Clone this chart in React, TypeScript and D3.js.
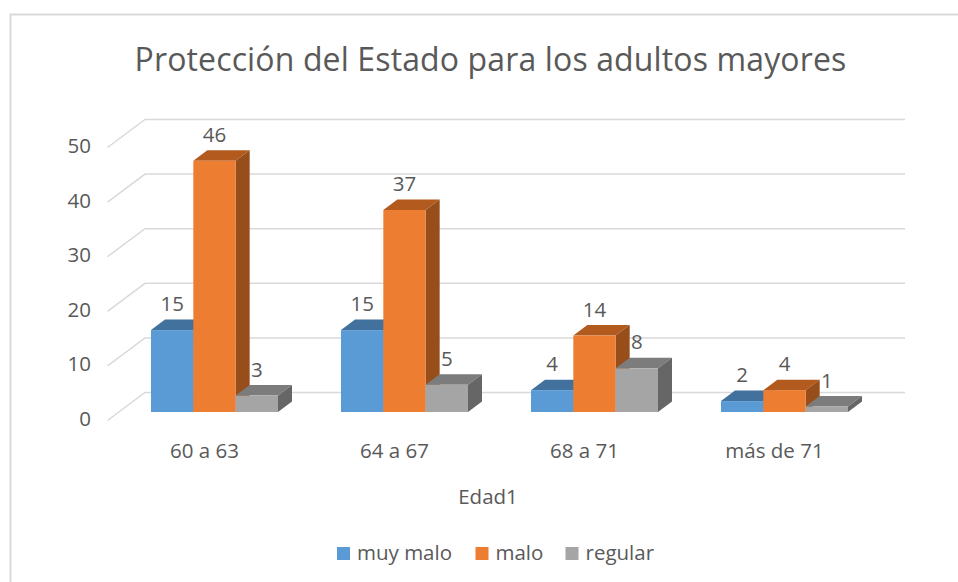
import React from 'react';
import * as d3 from 'd3';

const categories = ['60 a 63', '64 a 67', '68 a 71', 'más de 71'];
const seriesNames = ['muy malo', 'malo', 'regular'];
const muyMalo = [15, 15, 4, 2];
const malo = [46, 37, 14, 4];
const regular = [3, 5, 8, 1];
const yTicks = [0, 10, 20, 30, 40, 50];
const title = 'Protección del Estado para los adultos mayores';
const axisTitle = 'Edad1';

const seriesValues = [muyMalo, malo, regular];
const faces = [
  { front: '#5b9bd5', top: '#41719c', side: '#41719c' },
  { front: '#ed7d31', top: '#b35a1f', side: '#974e1b' },
  { front: '#a5a5a5', top: '#7c7c7c', side: '#666666' },
];

const font = '"Open Sans", sans-serif';
const textColor = '#595959';

const W = 958;
const H = 582;

const x0 = d3.scaleBand<string>().domain(categories).range([119.5, 879.5]);
const x1 = d3.scaleBand<string>().domain(seriesNames).range([31.5, 158.5]);
const y = d3.scaleLinear().domain([0, 50]).range([412, 139]);

// bar depth
const dx = 14;
const dy = -10.5;
// wall offset from the front floor edge
const wallX = 37.5;
const wallY = -28;
const floorLeft = 107.5;
const floorY = 420.5;
const wallRight = 905;

const pts = (p: number[][]) => p.map((d) => d.join(',')).join(' ');

function Bar({ x, w, v, c }: { x: number; w: number; v: number; c: (typeof faces)[number] }) {
  const t = y(v);
  const b = y(0);
  return (
    <g>
      <polygon points={pts([[x, t], [x + dx, t + dy], [x + w + dx, t + dy], [x + w, t]])} fill={c.top} />
      <polygon points={pts([[x + w, t], [x + w + dx, t + dy], [x + w + dx, b + dy], [x + w, b]])} fill={c.side} />
      <rect x={x} y={t} width={w} height={b - t} fill={c.front} />
    </g>
  );
}

export default function App() {
  const w = x1.bandwidth();
  const tickShift = floorY - y(0);
  return (
    <svg width={W} height={H} style={{ position: 'absolute', left: 0, top: 0 }} fontFamily={font}>
      <rect width={W} height={H} fill="#fff" />
      <path d={`M${W},14.5H10.5V${H}`} fill="none" stroke="#d9d9d9" strokeWidth={2} />
      <text x={490.5} y={71} textAnchor="middle" fontSize={32} letterSpacing={0.13} fill={textColor}>
        {title}
      </text>

      {yTicks.map((t) => {
        const fy = y(t) + tickShift;
        return (
          <g key={t}>
            <polyline
              points={pts([[floorLeft, fy], [floorLeft + wallX, fy + wallY], [wallRight, fy + wallY]])}
              fill="none"
              stroke="#d9d9d9"
              strokeWidth={1.5}
            />
            <text x={91} y={y(t) + 14} textAnchor="end" fontSize={20.5} fill={textColor}>
              {t}
            </text>
          </g>
        );
      })}

      {/* left to right: each bar covers the side of the one before it */}
      {categories.map((cat, i) => (
        <g key={cat} transform={`translate(${x0(cat)},0)`}>
          {seriesNames.map((s, k) => (
            <Bar key={s} x={x1(s)!} w={w} v={seriesValues[k][i]} c={faces[k]} />
          ))}
        </g>
      ))}

      {categories.map((cat, i) =>
        seriesNames.map((s, k) => (
          <text
            key={cat + s}
            x={x0(cat)! + x1(s)! + w / 2}
            y={y(seriesValues[k][i]) - 19}
            textAnchor="middle"
            fontSize={20.5}
            fill={textColor}
          >
            {seriesValues[k][i]}
          </text>
        ))
      )}

      {categories.map((cat) => (
        <text key={cat} x={x0(cat)! + x0.bandwidth() / 2 - 10} y={458} textAnchor="middle" fontSize={20.5} fill={textColor}>
          {cat}
        </text>
      ))}

      <text x={488} y={504} textAnchor="middle" fontSize={20.5} fill={textColor}>
        {axisTitle}
      </text>

      {seriesNames.map((s, k) => {
        const lx = [337, 475.5, 565.5][k];
        return (
          <g key={s}>
            <rect x={lx} y={547} width={13} height={13} fill={faces[k].front} />
            <text x={lx + 20} y={559.5} fontSize={20.5} fill={textColor}>
              {s}
            </text>
          </g>
        );
      })}
    </svg>
  );
}
